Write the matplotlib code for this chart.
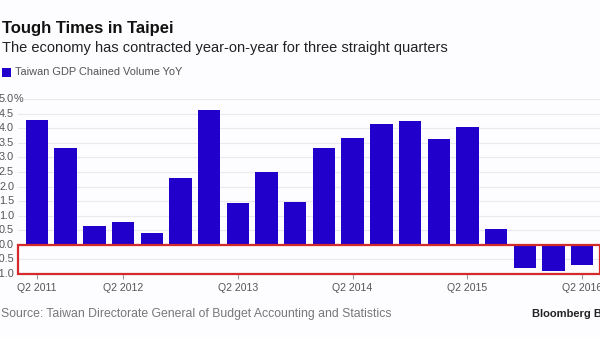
import matplotlib
matplotlib.use("Agg")
import matplotlib.pyplot as plt
import matplotlib.transforms as mtransforms
from matplotlib.patches import Rectangle
import numpy as np

plt.rcParams['font.family'] = ['Liberation Sans', 'DejaVu Sans']

values = [4.28, 3.31, 0.66, 0.77, 0.41, 2.29, 4.62, 1.43, 2.49, 1.46,
          3.31, 3.66, 4.14, 4.26, 3.62, 4.03, 0.56, -0.81, -0.89, -0.70]
tick_positions = [0, 3, 7, 11, 15, 19]
tick_labels = ["Q2 2011", "Q2 2012", "Q2 2013", "Q2 2014", "Q2 2015", "Q2 2016"]
y_ticks = [-1.0, -0.5, 0.0, 0.5, 1.0, 1.5, 2.0, 2.5, 3.0, 3.5, 4.0, 4.5, 5.0]
y_labels = ["-1.0", "-0.5", "0.0", "0.5", "1.0", "1.5", "2.0", "2.5", "3.0",
            "3.5", "4.0", "4.5", "5.0"]
y_unit = "%"

W, H = 600, 337
bg = "#fdfcfe"
bar_color = "#2200cc"
fig = plt.figure(figsize=(W / 100, H / 100), dpi=100, facecolor=bg)

ax = fig.add_axes([18 / W, (H - 274) / H, 582 / W, 175 / H], facecolor=bg)
x = np.arange(len(values))
ax.bar(x, values, width=0.78, color=bar_color, zorder=3)
ax.set_xlim(-0.66, 19.62)
ax.set_ylim(-1.0, 5.0)

for s in ax.spines.values():
    s.set_visible(False)

ax.set_yticks(y_ticks)
ax.set_yticklabels([])
ax.tick_params(axis='y', length=0)
ax.grid(axis='y', color="#ebe8ee", linewidth=0.8, zorder=0)

blend = mtransforms.blended_transform_factory(ax.transAxes, ax.transData)
lab_trans = mtransforms.offset_copy(blend, fig=fig, x=-4, y=0, units='dots')
for yv, lab in zip(y_ticks, y_labels):
    ax.text(0, yv, lab, transform=lab_trans, ha='right', va='center',
            fontsize=7.8, color="#555555", clip_on=False)
    if yv == max(y_ticks):
        ax.text(0, yv, y_unit, transform=lab_trans, ha='left', va='center',
                fontsize=7.8, color="#555555", clip_on=False)

ax.set_xticks(tick_positions)
ax.set_xticklabels(tick_labels)
ax.tick_params(axis='x', length=3.5, width=0.8, color="#999999", pad=3,
               labelsize=7.6, labelcolor="#555555")

rect = Rectangle((0.0, -1.0), 1.0, 1.0, transform=blend, fill=False,
                 edgecolor="#d42a2a", linewidth=1.6, zorder=5, clip_on=False)
ax.add_patch(rect)

fig.text(2 / W, 1 - 28 / H, "Tough Times in Taipei", fontsize=12, fontweight='bold',
         color="#111111", va='center', ha='left')
fig.text(2 / W, 1 - 48 / H,
         "The economy has contracted year-on-year for three straight quarters",
         fontsize=10.5, color="#222222", va='center', ha='left')
fig.patches.append(Rectangle((2 / W, 1 - 77 / H), 9 / W, 9 / H, transform=fig.transFigure,
                             facecolor=bar_color, edgecolor='none'))
fig.text(15 / W, 1 - 72 / H, "Taiwan GDP Chained Volume YoY", fontsize=7.9,
         color="#555555", va='center', ha='left')
fig.text(1 / W, 1 - 314 / H,
         "Source: Taiwan Directorate General of Budget Accounting and Statistics",
         fontsize=8.8, color="#777777", va='center', ha='left')
fig.text(532 / W, 1 - 314 / H, "Bloomberg Business", fontsize=8, fontweight='bold',
         color="#222222", va='center', ha='left')

fig.savefig("out.png", dpi=100, facecolor=bg)
